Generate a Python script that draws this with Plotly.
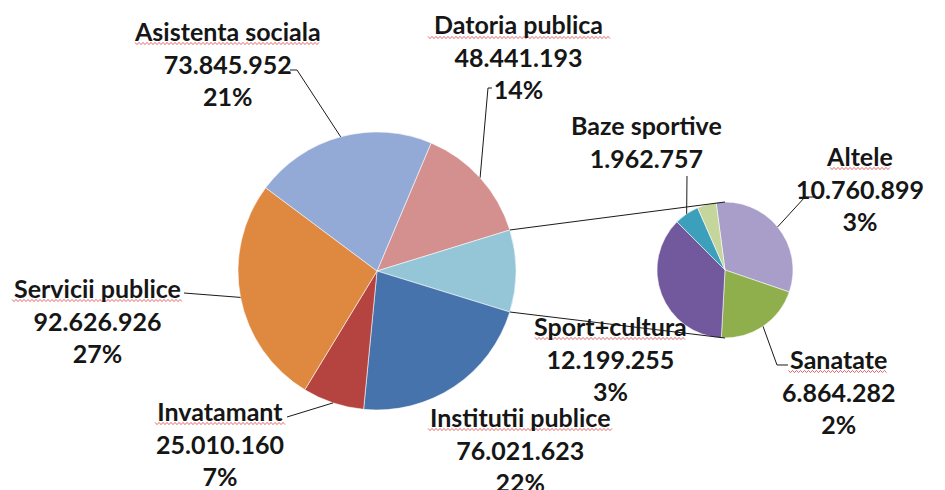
import math
import plotly.graph_objects as go

# ---------------- data ----------------
main_labels = ["Datoria publica", "Institutii publice", "Invatamant", "Servicii publice", "Asistenta sociala"]
main_values = [48441193, 76021623, 25010160, 92626926, 73845952]
main_pct = ["14%", "22%", "7%", "27%", "21%"]

sec_labels = ["Altele", "Sanatate", "Sport+cultura", "Baze sportive", "Diverse"]
sec_values = [10760899, 6864282, 12199255, 1962757, 1500000]
sec_pct = ["3%", "2%", "3%", "", ""]

other_label = "Alte cheltuieli"

# ---------------- styles / layout ----------------
WIN_W, WIN_H = 945, 490
OFF = 8  # default page body margin
W, H = WIN_W - OFF, WIN_H - OFF
MAIN_C, MAIN_R = (377, 271), 139
SEC_C, SEC_R = (725, 270), 68

main_colors = ["#D4908E", "#4673AC", "#B5433F", "#DF8840", "#93AAD6"]
other_color = "#94C6D8"
sec_colors = ["#A99DCA", "#8FAE4C", "#72589C", "#3C9FBB", "#C4D69C"]

FONT = dict(family="Lato, Carlito, Liberation Sans, sans-serif", size=25, color="#161616", weight="bold")

# label block centres (window px) and reference name widths for spell-check underline
label_pos = {
    "Asistenta sociala": (227, 63, 184),
    "Datoria publica": (519, 57, 182),
    "Baze sportive": (646, 141, 0),
    "Altele": (860, 188, 60),
    "Servicii publice": (97, 320, 170),
    "Sport+cultura": (610, 358, 150),
    "Sanatate": (838, 391, 99),
    "Invatamant": (220, 443, 130),
    "Institutii publice": (520, 449, 184),
}
# leader line text-side points (window px)
leader_pts = {
    "Asistenta sociala": [(290, 70), (297, 70)],
    "Datoria publica": [(492, 88), (488, 88)],
    "Baze sportive": [(687, 176)],
    "Altele": [(815, 197), (805, 197)],
    "Sanatate": [(788, 365), (777, 365)],
    "Servicii publice": [(184, 293)],
    "Invatamant": [(287, 417)],
}


def px(x, y):
    return (x - OFF) / W, 1 - (y - OFF) / H


def domain(c, r):
    x0, y1 = px(c[0] - r, c[1] - r)
    x1, y0 = px(c[0] + r, c[1] + r)
    return dict(x=[x0, x1], y=[y0, y1])


def edge(c, r, ang):
    a = math.radians(ang)
    return c[0] + r * math.sin(a), c[1] - r * math.cos(a)


other_value = sum(sec_values)
m_labels = [main_labels[0], other_label] + main_labels[1:]
m_values = [main_values[0], other_value] + main_values[1:]
m_colors = [main_colors[0], other_color] + main_colors[1:]
m_total = sum(m_values)
main_rot = 90 - (m_values[0] + other_value / 2) / m_total * 360
sec_rot = -7.5

fig = go.Figure()
fig.add_trace(go.Pie(labels=m_labels, values=m_values, sort=False, direction="clockwise",
                     rotation=main_rot, domain=domain(MAIN_C, MAIN_R), textinfo="none",
                     marker=dict(colors=m_colors, line=dict(color="rgba(255,255,255,0.55)", width=1)),
                     showlegend=False, hoverinfo="label+value"))
fig.add_trace(go.Pie(labels=sec_labels, values=sec_values, sort=False, direction="clockwise",
                     rotation=sec_rot, domain=domain(SEC_C, SEC_R), textinfo="none",
                     marker=dict(colors=sec_colors, line=dict(color="rgba(255,255,255,0.55)", width=1)),
                     showlegend=False, hoverinfo="label+value"))


def mid_angles(values, rot):
    tot = sum(values)
    out, acc = [], 0
    for v in values:
        out.append(rot + (acc + v / 2) / tot * 360)
        acc += v
    return out


main_mid = dict(zip(m_labels, mid_angles(m_values, main_rot)))
sec_mid = dict(zip(sec_labels, mid_angles(sec_values, sec_rot)))

shapes = []
line_style = dict(color="#1a1a1a", width=1)

# connector lines between the pies
o_start = main_rot + m_values[0] / m_total * 360
o_end = o_start + other_value / m_total * 360
p1 = edge(MAIN_C, MAIN_R, o_start)
p2 = edge(MAIN_C, MAIN_R, o_end)
for a, b in [(p1, (SEC_C[0], SEC_C[1] - SEC_R)), (p2, (SEC_C[0], SEC_C[1] + SEC_R))]:
    x0, y0 = px(*a)
    x1, y1 = px(*b)
    shapes.append(dict(type="line", xref="paper", yref="paper", x0=x0, y0=y0, x1=x1, y1=y1, line=line_style))

# leader lines
for name, pts in leader_pts.items():
    if name in main_mid:
        e = edge(MAIN_C, MAIN_R, main_mid[name])
    else:
        e = edge(SEC_C, SEC_R, sec_mid[name])
    allp = pts + [e]
    path = "M " + " L ".join("%.5f,%.5f" % px(*p) for p in allp)
    shapes.append(dict(type="path", xref="paper", yref="paper", path=path, line=line_style))

annotations = []
values_map = dict(zip(main_labels + sec_labels, main_values + sec_values))
pct_map = dict(zip(main_labels + sec_labels, main_pct + sec_pct))
for name, (cx, cy, uw) in label_pos.items():
    val = "{:,}".format(values_map[name]).replace(",", ".")
    lines = [name, val] + ([pct_map[name]] if pct_map[name] else [])
    x, y = px(cx, cy)
    annotations.append(dict(text="<br>".join(lines), x=x, y=y, xref="paper", yref="paper",
                            xanchor="center", yanchor="middle", showarrow=False, font=FONT, align="center"))
    if uw:
        nlines = len(lines)
        uy = cy - (nlines - 1) / 2 * 32.5 + 13
        pts = []
        n = int(uw / 2)
        for i in range(n + 1):
            pts.append((cx - uw / 2 + i * 2, uy + (1.1 if i % 2 else -1.1)))
        path = "M " + " L ".join("%.5f,%.5f" % px(*p) for p in pts)
        shapes.append(dict(type="path", xref="paper", yref="paper", path=path,
                           line=dict(color="rgba(220,60,60,0.75)", width=1)))

fig.update_layout(width=W, height=H, margin=dict(l=0, r=0, t=0, b=0),
                  paper_bgcolor="white", plot_bgcolor="white",
                  shapes=shapes, annotations=annotations)
fig.write_html("out.html")
